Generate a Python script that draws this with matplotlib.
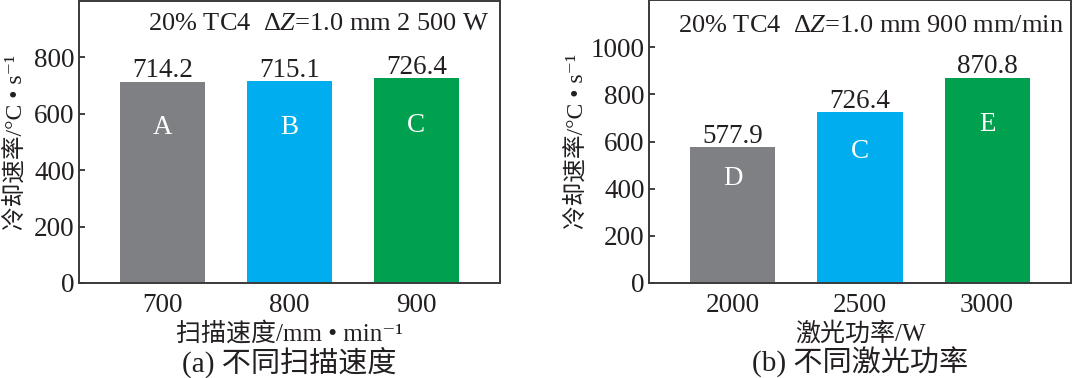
import matplotlib
matplotlib.use("Agg")
import matplotlib.pyplot as plt

# ---- data ----
speed_labels = ["700", "800", "900"]
speed_values = [714.2, 715.1, 726.4]
speed_ids = ["A", "B", "C"]

power_labels = ["2000", "2500", "3000"]
power_values = [577.9, 726.4, 870.8]
power_ids = ["D", "C", "E"]

bar_colors = ["#7f8084", "#00aeef", "#00a14e"]
txt = "#231f20"

fam = ["Liberation Serif", "DejaVu Serif", "Noto Sans CJK SC"]
plt.rcParams["font.family"] = fam
plt.rcParams["mathtext.fontset"] = "custom"
plt.rcParams["mathtext.rm"] = "Liberation Serif"
plt.rcParams["mathtext.it"] = "Liberation Serif:italic"
plt.rcParams["text.color"] = txt

fig = plt.figure(figsize=(10.72, 3.78), dpi=100)
W, H = 1072, 378

def make_ax(l, r, t, b):
    return fig.add_axes([l / W, 1 - b / H, (r - l) / W, (b - t) / H])

axa = make_ax(79, 500, 1, 283)
axb = make_ax(649, 1071, 0, 283)

def style(ax, ymax, yticks, labels, values, ids, xlab, ylab_x, note, note_xy, note_ha, caption):
    x = list(range(len(values)))
    ax.bar(x, values, width=0.67, color=bar_colors, zorder=2)
    ax.set_xlim(-0.66, 2.66)
    ax.set_ylim(0, ymax)
    ax.set_yticks(yticks)
    ax.set_xticks(x)
    ax.set_xticklabels(labels)
    ax.tick_params(axis="y", direction="in", length=4, width=1.2, pad=3,
                   labelsize=19.5, colors=txt)
    ax.tick_params(axis="x", length=0, pad=7, labelsize=19.5, colors=txt)
    for s in ax.spines.values():
        s.set_linewidth(1.4)
        s.set_color("#3a3a3a")
    for xi, v, lab in zip(x, values, ids):
        ax.annotate(f"{v:.1f}", (xi, v), xytext=(0, 3), textcoords="offset points",
                    ha="center", va="baseline", fontsize=19.5, color=txt)
        ax.text(xi, v * 0.77, lab, ha="center", va="center", fontsize=19.5, color="white")
    ax.set_xlabel(xlab, fontsize=18, labelpad=3, color=txt)
    ax.set_ylabel("冷却速率/°C • s⁻¹", fontsize=17, color=txt)
    ax.yaxis.set_label_coords(ylab_x, 0.5)
    ax.text(note_xy[0], note_xy[1], note, transform=ax.transAxes, ha=note_ha,
            va="baseline", fontsize=19, color=txt)
    ax.text(0.5, -0.28, caption, transform=ax.transAxes, ha="center", va="center",
            fontsize=21, color=txt)

style(axa, 1000, [0, 200, 400, 600, 800], speed_labels, speed_values, speed_ids,
      "扫描速度/mm • min⁻¹", -0.125,
      r"20% TC4  $\Delta\mathit{Z}$=1.0 mm 2 500 W", (0.974, 0.897), "right",
      "(a) 不同扫描速度")
style(axb, 1200, [0, 200, 400, 600, 800, 1000], power_labels, power_values, power_ids,
      "激光功率/W", -0.145,
      r"20% TC4  $\Delta\mathit{Z}$=1.0 mm 900 mm/min", (0.983, 0.887), "right",
      "(b) 不同激光功率")

fig.savefig("out.png", dpi=100)
